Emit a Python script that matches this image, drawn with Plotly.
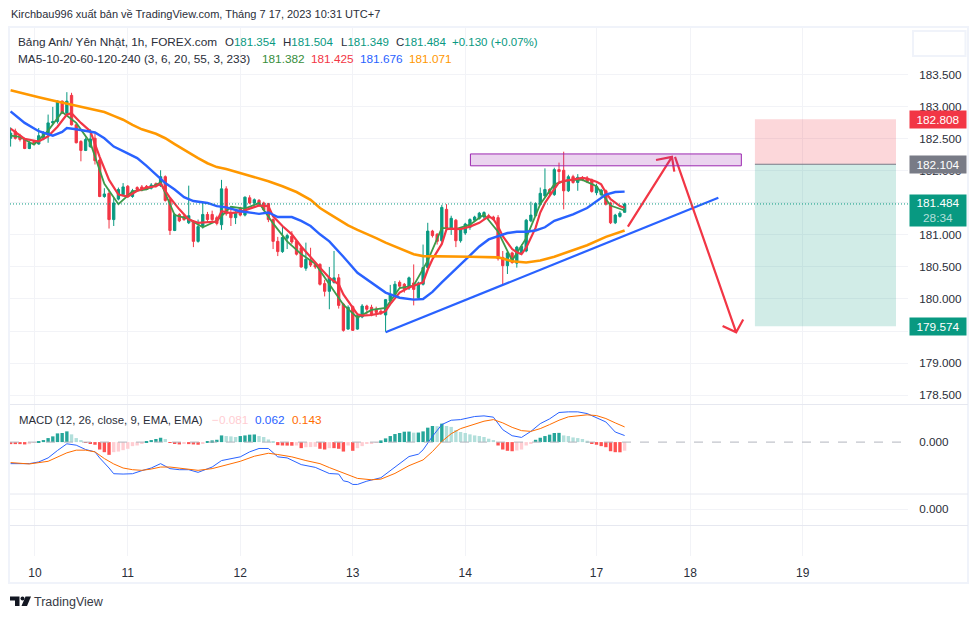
#!/usr/bin/env python3
"""GBP/JPY 1h chart with MA lines, MACD and a short position drawing"""

import plotly.graph_objects as go
from plotly.subplots import make_subplots

# Candles, hourly bars
opens = [182.51, 182.62, 182.55, 182.50, 182.35, 182.46, 182.42, 182.50, 182.56, 182.75, 182.77, 183.09, 182.90, 183.18, 182.72, 182.46, 182.32, 182.38, 182.51, 182.17,
         181.60, 181.65, 181.24, 181.56, 181.63, 181.76, 181.60, 181.74, 181.75, 181.76, 181.73, 181.80, 181.77, 181.91, 181.55, 181.07, 181.32, 181.29, 181.19, 181.21,
         180.90, 181.13, 181.32, 181.32, 181.27, 181.16, 181.72, 181.34, 181.27, 181.42, 181.31, 181.58, 181.50, 181.54, 181.50, 181.49, 181.24, 180.90, 180.74, 180.95,
         180.98, 180.90, 180.80, 180.48, 180.61, 180.54, 180.54, 180.24, 180.12, 180.26, 180.33, 179.92, 179.53, 179.88, 179.53, 179.72, 179.89, 179.87, 179.84, 179.81,
         179.75, 179.97, 180.07, 180.26, 180.23, 180.17, 180.25, 180.02, 180.23, 180.49, 181.06, 181.01, 180.91, 181.40, 181.10, 181.23, 180.91, 181.03, 181.12, 181.23,
         181.26, 181.28, 181.30, 181.28, 181.27, 180.65, 180.52, 180.72, 180.56, 180.71, 180.75, 181.22, 181.30, 181.48, 181.61, 181.71, 181.63, 182.02, 182.01, 181.69,
         181.91, 181.82, 181.89, 181.89, 181.86, 181.66, 181.63, 181.69, 181.50, 181.19, 181.29, 181.354]
highs = [182.68, 182.66, 182.58, 182.52, 182.46, 182.48, 182.67, 182.62, 182.88, 183.00, 183.10, 183.10, 183.23, 183.22, 182.74, 182.48, 182.52, 182.65, 182.59, 182.20,
         181.73, 181.71, 181.58, 181.74, 181.81, 181.78, 181.72, 181.76, 181.78, 181.78, 181.81, 181.82, 182.01, 181.93, 181.56, 181.34, 181.34, 181.31, 181.77, 181.23,
         181.24, 181.50, 181.36, 181.38, 181.30, 181.86, 181.76, 181.45, 181.37, 181.44, 181.60, 181.62, 181.57, 181.56, 181.52, 181.50, 181.26, 180.97, 181.13, 181.02,
         181.06, 180.93, 180.83, 180.88, 180.80, 180.56, 180.56, 180.30, 180.50, 180.75, 180.39, 179.94, 179.90, 179.90, 179.76, 179.92, 179.91, 179.91, 179.88, 179.84,
         180.00, 180.22, 180.28, 180.29, 180.25, 180.35, 180.54, 180.27, 180.85, 181.19, 181.08, 181.03, 181.47, 181.48, 181.30, 181.25, 181.10, 181.19, 181.26, 181.30,
         181.36, 181.37, 181.33, 181.30, 181.31, 180.75, 180.74, 180.74, 180.83, 180.85, 181.25, 181.52, 181.51, 181.74, 182.04, 181.73, 182.05, 182.13, 182.30, 181.94,
         181.94, 181.95, 181.92, 181.92, 181.88, 181.80, 181.72, 181.71, 181.52, 181.33, 181.37, 181.504]
lows = [182.38, 182.49, 182.46, 182.34, 182.34, 182.41, 182.41, 182.48, 182.44, 182.73, 182.74, 182.89, 182.88, 182.71, 182.43, 182.15, 182.31, 182.36, 182.10, 181.59,
        181.58, 181.10, 181.14, 181.54, 181.60, 181.58, 181.58, 181.68, 181.68, 181.70, 181.71, 181.74, 181.75, 181.52, 181.00, 181.06, 181.20, 181.22, 181.17, 180.81,
        180.88, 181.10, 181.20, 181.21, 181.15, 181.08, 181.30, 181.14, 181.17, 181.29, 181.29, 181.48, 181.46, 181.44, 181.37, 181.20, 180.78, 180.67, 180.72, 180.78,
        180.86, 180.68, 180.49, 180.44, 180.50, 180.47, 180.21, 180.04, 179.84, 180.24, 179.85, 179.49, 179.52, 179.50, 179.52, 179.70, 179.76, 179.73, 179.72, 179.75,
        179.49, 179.93, 180.05, 180.17, 180.10, 180.14, 179.90, 180.00, 180.21, 180.47, 180.96, 180.85, 180.89, 181.08, 181.00, 180.81, 180.88, 181.00, 181.08, 181.20,
        181.24, 181.25, 181.25, 181.22, 180.60, 180.22, 180.39, 180.55, 180.49, 180.69, 180.73, 181.20, 181.28, 181.46, 181.59, 181.60, 181.61, 181.80, 181.40, 181.67,
        181.80, 181.69, 181.84, 181.81, 181.66, 181.62, 181.60, 181.46, 181.17, 181.17, 181.27, 181.349]
closes = [182.59, 182.51, 182.49, 182.35, 182.44, 182.43, 182.55, 182.60, 182.75, 182.77, 183.09, 182.90, 183.09, 182.72, 182.44, 182.32, 182.49, 182.50, 182.16, 181.60,
          181.64, 181.24, 181.50, 181.71, 181.75, 181.60, 181.69, 181.71, 181.70, 181.71, 181.78, 181.76, 181.91, 181.54, 181.07, 181.32, 181.22, 181.24, 181.30, 180.90,
          181.13, 181.32, 181.24, 181.24, 181.18, 181.72, 181.33, 181.27, 181.34, 181.31, 181.59, 181.50, 181.55, 181.46, 181.39, 181.24, 180.90, 180.74, 180.96, 180.99,
          180.89, 180.70, 180.50, 180.62, 180.53, 180.50, 180.23, 180.12, 180.33, 180.33, 179.90, 179.51, 179.87, 179.51, 179.74, 179.89, 179.84, 179.75, 179.79, 179.79,
          179.99, 180.07, 180.23, 180.20, 180.15, 180.33, 180.15, 180.25, 180.49, 181.06, 180.99, 180.90, 181.43, 181.11, 181.26, 180.91, 181.08, 181.17, 181.24, 181.28,
          181.34, 181.35, 181.27, 181.24, 180.63, 180.52, 180.72, 180.57, 180.81, 180.82, 181.23, 181.31, 181.49, 181.65, 181.71, 181.65, 182.02, 181.99, 181.69, 181.91,
          181.82, 181.90, 181.86, 181.83, 181.68, 181.76, 181.70, 181.48, 181.19, 181.31, 181.34, 181.484]

# Moving averages, read at the bars listed next to each one
ma_fast_x = [0, 2, 5, 8, 11, 14, 17, 20, 23, 26, 29, 32, 35, 38, 41, 44, 47, 50, 53, 56, 59, 62, 65, 68, 71, 74, 77, 80, 83, 86, 89, 92, 95, 98, 101, 104, 107, 110, 113, 116, 119, 122, 125, 128, 131]
ma_fast = [182.55, 182.53, 182.41, 182.63, 182.92, 182.75, 182.44, 181.80, 181.48, 181.68, 181.71, 181.82, 181.31, 181.25, 181.12, 181.22, 181.44, 181.41, 181.50, 181.18, 180.90, 180.70, 180.55, 180.23, 179.91, 179.71, 179.83, 179.86, 180.17, 180.21, 180.60, 181.11, 181.09, 181.16, 181.32, 181.05, 180.60, 180.95, 181.48, 181.79, 181.86, 181.86, 181.76, 181.46, 181.382]
ma_mid_x = [0, 3, 6, 8, 10, 12, 13, 15, 17, 19, 21, 23, 25, 27, 29, 31, 32, 34, 36, 38, 40, 43, 44, 45, 47, 49, 51, 53, 55, 56, 58, 60, 62, 64, 66, 68, 70, 71, 72, 73, 74, 75, 77, 79, 80, 81, 83, 85, 87, 88, 89, 90, 92, 93, 94, 96, 98, 100, 102, 103, 104, 105, 106, 107, 108, 109, 110, 111, 112, 113, 114, 115, 116, 117, 118, 120, 122, 123, 125, 126, 127, 128, 130, 131]
ma_mid = [182.66, 182.50, 182.46, 182.54, 182.69, 182.88, 182.90, 182.75, 182.62, 182.22, 181.86, 181.63, 181.60, 181.69, 181.74, 181.76, 181.80, 181.58, 181.40, 181.24, 181.19, 181.21, 181.21, 181.37, 181.34, 181.36, 181.41, 181.46, 181.45, 181.29, 181.14, 181.01, 180.82, 180.65, 180.49, 180.33, 180.23, 180.07, 179.97, 179.87, 179.76, 179.74, 179.75, 179.78, 179.81, 179.92, 180.10, 180.18, 180.23, 180.26, 180.46, 180.62, 180.86, 181.09, 181.10, 181.09, 181.13, 181.19, 181.29, 181.25, 181.13, 180.98, 180.88, 180.78, 180.73, 180.70, 180.80, 180.96, 181.11, 181.35, 181.50, 181.61, 181.71, 181.82, 181.84, 181.87, 181.89, 181.88, 181.83, 181.79, 181.66, 181.56, 181.45, 181.425]
ma_blue_x = [0, 3, 6, 9, 11, 12, 14, 16, 18, 20, 22, 24, 27, 29, 31, 33, 35, 37, 39, 42, 44, 46, 49, 53, 55, 57, 60, 62, 64, 66, 68, 70, 71, 74, 77, 80, 83, 86, 88, 90, 92, 94, 96, 98, 100, 102, 104, 106, 108, 110, 112, 114, 116, 118, 120, 123, 125, 127, 129, 131]
ma_blue = [182.93, 182.75, 182.62, 182.55, 182.61, 182.67, 182.65, 182.62, 182.60, 182.51, 182.38, 182.31, 182.20, 182.08, 181.94, 181.81, 181.71, 181.59, 181.53, 181.50, 181.45, 181.43, 181.37, 181.33, 181.35, 181.28, 181.28, 181.22, 181.14, 181.01, 180.90, 180.75, 180.66, 180.41, 180.26, 180.10, 180.02, 179.99, 180.00, 180.11, 180.26, 180.40, 180.54, 180.67, 180.82, 180.93, 180.98, 181.03, 181.05, 181.05, 181.07, 181.12, 181.22, 181.27, 181.32, 181.42, 181.53, 181.63, 181.67, 181.676]
ma_orange_x = [0, 3, 6, 9, 12, 16, 18, 20, 22, 24, 26, 28, 31, 33, 35, 37, 40, 42, 44, 46, 49, 52, 55, 58, 61, 64, 66, 68, 70, 72, 74, 76, 78, 80, 82, 84, 86, 88, 90, 94, 98, 104, 107, 110, 113, 116, 119, 123, 127, 131]
ma_orange = [183.26, 183.20, 183.15, 183.10, 183.05, 182.99, 182.95, 182.92, 182.86, 182.80, 182.72, 182.65, 182.58, 182.51, 182.42, 182.33, 182.20, 182.12, 182.06, 182.03, 181.97, 181.91, 181.84, 181.76, 181.67, 181.55, 181.42, 181.33, 181.24, 181.15, 181.08, 181.02, 180.95, 180.88, 180.82, 180.75, 180.70, 180.67, 180.67, 180.67, 180.66, 180.65, 180.59, 180.57, 180.60, 180.66, 180.74, 180.84, 180.97, 181.071]

# MACD pane
macd_hist = [-0.019, -0.019, -0.019, -0.022, -0.019, -0.006, 0.010, 0.019, 0.038, 0.054, 0.082, 0.086, 0.101, 0.073, 0.038, 0.019, -0.006, -0.013, -0.025, -0.070,
             -0.095, -0.120, -0.095, -0.089, -0.076, -0.063, -0.038, -0.032, -0.013, 0.010, 0.019, 0.029, 0.041, 0.029, -0.006, -0.016, -0.022, -0.013, -0.019, -0.022,
             -0.025, -0.016, 0.010, 0.016, 0.022, 0.063, 0.057, 0.054, 0.048, 0.057, 0.063, 0.070, 0.072, 0.057, 0.048, 0.025, 0.006, -0.029, -0.032, -0.033,
             -0.034, -0.032, -0.057, -0.048, -0.047, -0.044, -0.063, -0.070, -0.057, -0.057, -0.063, -0.089, -0.032, -0.082, -0.057, -0.038, -0.016, -0.010, -0.003, 0.016,
             0.035, 0.057, 0.076, 0.086, 0.098, 0.099, 0.089, 0.090, 0.101, 0.136, 0.152, 0.150, 0.174, 0.152, 0.143, 0.114, 0.095, 0.086, 0.073, 0.063,
             0.057, 0.048, 0.032, 0.019, -0.032, -0.070, -0.082, -0.086, -0.079, -0.070, -0.032, -0.013, 0.022, 0.041, 0.057, 0.070, 0.086, 0.087, 0.063, 0.057,
             0.044, 0.038, 0.029, 0.013, -0.013, -0.025, -0.038, -0.048, -0.086, -0.095, -0.096, -0.081]
macd_x = [0, 2, 4, 6, 8, 10, 12, 14, 16, 18, 19, 21, 22, 24, 26, 28, 30, 32, 34, 36, 38, 40, 41, 43, 45, 47, 49, 51, 53, 55, 57, 59, 62, 65, 68, 70, 71, 72, 73, 74, 76, 79, 81, 83, 85, 87, 88, 90, 92, 94, 96, 99, 101, 103, 105, 107, 109, 111, 113, 115, 117, 119, 121, 123, 125, 127, 129, 131]
macd_line = [-0.203, -0.206, -0.203, -0.187, -0.149, -0.079, -0.016, -0.029, -0.070, -0.092, -0.149, -0.244, -0.298, -0.301, -0.298, -0.269, -0.244, -0.203, -0.250, -0.260, -0.260, -0.285, -0.269, -0.235, -0.174, -0.159, -0.139, -0.092, -0.060, -0.060, -0.139, -0.149, -0.212, -0.238, -0.296, -0.301, -0.365, -0.374, -0.399, -0.399, -0.368, -0.336, -0.269, -0.200, -0.136, -0.114, -0.073, 0.054, 0.165, 0.206, 0.212, 0.241, 0.247, 0.235, 0.117, 0.060, 0.044, 0.101, 0.174, 0.219, 0.279, 0.285, 0.285, 0.269, 0.228, 0.190, 0.095, 0.062]
signal_x = [0, 4, 8, 10, 12, 14, 16, 18, 20, 22, 24, 26, 28, 30, 32, 34, 36, 38, 40, 43, 46, 49, 52, 55, 57, 60, 63, 66, 68, 71, 74, 77, 79, 82, 85, 88, 90, 92, 94, 96, 99, 101, 103, 105, 107, 109, 111, 113, 115, 117, 119, 121, 123, 125, 127, 129, 131]
signal_line = [-0.193, -0.206, -0.181, -0.143, -0.101, -0.076, -0.076, -0.092, -0.155, -0.206, -0.244, -0.260, -0.266, -0.254, -0.235, -0.235, -0.244, -0.254, -0.266, -0.250, -0.212, -0.181, -0.133, -0.105, -0.117, -0.139, -0.174, -0.203, -0.240, -0.288, -0.342, -0.355, -0.349, -0.295, -0.222, -0.168, -0.089, 0.006, 0.079, 0.127, 0.171, 0.197, 0.212, 0.181, 0.139, 0.108, 0.101, 0.127, 0.165, 0.206, 0.238, 0.250, 0.257, 0.250, 0.222, 0.181, 0.143]

# Drawings: tail, tip, one barb, tip, other barb
trend_x = [80, 151]
trend_y = [179.48, 181.58]
arrow_up_x = [131.7, 141.1, 137.7, 141.1, 141.6]
arrow_up_y = [181.13, 182.22, 182.17, 182.22, 181.99]
arrow_down_x = [141.75, 154.8, 151.9, 154.8, 156.3]
arrow_down_y = [182.22, 179.48, 179.58, 179.48, 179.68]
zone_x = [98.1, 155.9]
zone_y = [182.08, 182.265]
position_x = [158.8, 188.9]
stop_price = 182.808
entry_price = 182.104
target_price = 179.574
last_close = 181.484

# Axes
day_ticks = [5.2, 25, 49, 73, 97, 125, 145, 169]
day_labels = ["10", "11", "12", "13", "14", "17", "18", "19"]
price_ticks = [178.5, 179.0, 179.5, 180.0, 180.5, 181.0, 181.5, 182.0, 182.5, 183.0, 183.5]
price_labels = ["178.500", "179.000", "179.500", "180.000", "180.500", "181.000", "", "182.000", "182.500", "183.000", "183.500"]

GREEN = "#089981"
RED = "#F23645"
BLUE = "#2962FF"
ORANGE = "#FF9800"
GRID = "#F2F3F7"
BORDER = "#E6E8F0"
TEXT = "#2A2E39"
FONT = "Liberation Sans"

# pixel helpers for the page furniture (frame, legends, logo)
LEFT, RIGHT, TOP, BOTTOM = 10, 908, 28, 556
def px(x):
    return (x - LEFT) / (RIGHT - LEFT)
def py(y):
    return (BOTTOM - y) / (BOTTOM - TOP)

fig = make_subplots(rows=3, cols=1, shared_xaxes=True, vertical_spacing=0,
                    row_heights=[376, 90, 62])

bars = list(range(len(closes)))

fig.add_trace(go.Candlestick(
    x=bars, open=opens, high=highs, low=lows, close=closes,
    increasing=dict(line=dict(color=GREEN, width=1), fillcolor=GREEN),
    decreasing=dict(line=dict(color=RED, width=1), fillcolor=RED),
    hoverinfo="skip", showlegend=False), row=1, col=1)

for xs, ys, color, width in [(ma_fast_x, ma_fast, "#3C9A4A", 1.8), (ma_mid_x, ma_mid, RED, 2.2),
                             (ma_blue_x, ma_blue, BLUE, 2.4), (ma_orange_x, ma_orange, ORANGE, 2.6)]:
    fig.add_trace(go.Scatter(x=xs, y=ys, mode="lines", line=dict(color=color, width=width),
                             hoverinfo="skip", showlegend=False), row=1, col=1)

fig.add_trace(go.Scatter(x=trend_x, y=trend_y, mode="lines", line=dict(color=BLUE, width=2.2),
                         hoverinfo="skip", showlegend=False), row=1, col=1)

for xs, ys in [(arrow_up_x, arrow_up_y), (arrow_down_x, arrow_down_y)]:
    fig.add_trace(go.Scatter(x=xs, y=ys, mode="lines", line=dict(color=RED, width=2.2),
                             hoverinfo="skip", showlegend=False), row=1, col=1)

# Histogram colours follow the usual MACD rule
hist_colors = []
for i, v in enumerate(macd_hist):
    prev = macd_hist[i - 1] if i else v
    if v >= 0:
        hist_colors.append("#26A69A" if v >= prev else "#B2DFDB")
    else:
        hist_colors.append("#FF5252" if v <= prev else "#FFCDD2")

fig.add_trace(go.Bar(x=bars, y=macd_hist, width=0.72, marker=dict(color=hist_colors, line=dict(width=0)),
                     hoverinfo="skip", showlegend=False), row=2, col=1)
fig.add_trace(go.Scatter(x=macd_x, y=macd_line, mode="lines", line=dict(color="#2962FF", width=1),
                         hoverinfo="skip", showlegend=False), row=2, col=1)
fig.add_trace(go.Scatter(x=signal_x, y=signal_line, mode="lines", line=dict(color="#FF6D00", width=1),
                         hoverinfo="skip", showlegend=False), row=2, col=1)
fig.add_trace(go.Scatter(x=[0], y=[0], mode="markers", marker=dict(opacity=0), hoverinfo="skip",
                         showlegend=False), row=3, col=1)

# Short position box and purple zone
fig.add_shape(type="rect", x0=position_x[0], x1=position_x[1], y0=entry_price, y1=stop_price, row=1, col=1,
              fillcolor="rgba(242,54,69,0.2)", line=dict(width=0))
fig.add_shape(type="rect", x0=position_x[0], x1=position_x[1], y0=target_price, y1=entry_price, row=1, col=1,
              fillcolor="rgba(8,153,129,0.19)", line=dict(width=0))
fig.add_shape(type="line", x0=position_x[0], x1=position_x[1], y0=entry_price, y1=entry_price, row=1, col=1,
              line=dict(color="#787B86", width=1))
fig.add_shape(type="rect", x0=zone_x[0], x1=zone_x[1], y0=zone_y[0], y1=zone_y[1], row=1, col=1,
              fillcolor="rgba(156,39,176,0.2)", line=dict(color="#9C27B0", width=1))

fig.add_hline(y=last_close, row=1, col=1, line=dict(color=GREEN, width=1, dash="1px,2px"))
fig.add_hline(y=0, row=2, col=1, line=dict(color="#B2B5BE", width=1, dash="dash"))

# Frame and pane dividers, in page pixels
frame = dict(type="rect", xref="paper", yref="paper", x0=px(9), x1=px(968), y0=py(583), y1=py(27),
             line=dict(color="#F0F3FA", width=2), layer="below")
shapes = [frame, dict(type="rect", xref="paper", yref="paper", x0=px(913), x1=px(965.5), y0=py(56), y1=py(31),
                      line=dict(color="#F0F3FA", width=2))]
for y in [404.5, 494, 525.5]:
    shapes.append(dict(type="line", xref="paper", yref="paper", x0=px(10), x1=px(968), y0=py(y), y1=py(y),
                       line=dict(color=BORDER, width=1)))
# TradingView logo
shapes.append(dict(type="path", xref="paper", yref="paper", fillcolor="#131722", line=dict(width=0),
                   path="M {} {} L {} {} L {} {} L {} {} L {} {} L {} {} Z".format(
                       px(10), py(596.5), px(19.5), py(596.5), px(19.5), py(606), px(15), py(606), px(15), py(600.5), px(10), py(600.5))))
shapes.append(dict(type="path", xref="paper", yref="paper", fillcolor="#131722", line=dict(width=0),
                   path="M {} {} L {} {} L {} {} L {} {} Z".format(
                       px(25.5), py(596.5), px(31), py(596.5), px(27), py(606), px(21.5), py(606))))
shapes.append(dict(type="circle", xref="paper", yref="paper", fillcolor="#131722", line=dict(width=0),
                   x0=px(20.5), x1=px(24.5), y0=py(600.5), y1=py(596.5)))
for s in shapes:
    fig.add_shape(**s)

def label(x, y, text, color=TEXT, size=12):
    fig.add_annotation(xref="paper", yref="paper", x=px(x), y=py(y), text=text, showarrow=False,
                       xanchor="left", yanchor="middle", align="left",
                       font=dict(family=FONT, size=size, color=color), borderpad=0)

label(10, 14.5, "Kirchbau996 xuất bản về TradingView.com, Tháng 7 17, 2023 10:31 UTC+7", size=11)
label(17, 42, "Bảng Anh/ Yên Nhật, 1h, FOREX.com", size=11.8)
for x, head, value in [(224, "O", "181.354"), (282, "H", "181.504"), (340, "L", "181.349"), (395, "C", "181.484")]:
    label(x, 42, f"{head}<span style='color:{GREEN}'>{value}</span>", size=11.5)
label(451, 42, "+0.130 (+0.07%)", GREEN, 11.5)
label(17, 59, "MA5-10-20-60-120-240 (3, 6, 20, 55, 3, 233)", size=11.8)
for x, value, color in [(261, "181.382", "#388E3C"), (310, "181.425", RED), (359, "181.676", BLUE), (408, "181.071", ORANGE)]:
    label(x, 59, value, color, 11.8)
label(18, 420, "MACD (12, 26, close, 9, EMA, EMA)", size=11.4)
for x, value, color in [(211, "−0.081", "#FFCDD2"), (254, "0.062", BLUE), (291, "0.143", "#FF6D00")]:
    label(x, 420, value, color, 11.8)
label(33, 601.5, "TradingView", "#363A45", 12.5)

# Price tags on the right axis
for price, text, color, height, shift in [
        (stop_price, "182.808", RED, 17, 0),
        (entry_price, "182.104", "#787B86", 17, 0),
        (last_close, "181.484<br><span style='color:#B2DFDB'>28:34</span>", GREEN, 31, -7),
        (target_price, "179.574", GREEN, 17, 0)]:
    fig.add_annotation(xref="paper", yref="y", x=px(909), y=price, text=text, showarrow=False,
                       xanchor="left", yanchor="middle", align="center", width=56, height=height,
                       bgcolor=color, borderpad=0, yshift=shift,
                       font=dict(family=FONT, size=11.8, color="white"))

fig.update_xaxes(range=[-0.13, 191.46], tickmode="array", tickvals=day_ticks, ticktext=day_labels,
                 showgrid=True, gridcolor=GRID, gridwidth=1, zeroline=False, showline=False,
                 ticks="outside", ticklen=6, tickcolor="rgba(0,0,0,0)", rangeslider=dict(visible=False),
                 tickfont=dict(family=FONT, size=12, color=TEXT))
fig.update_yaxes(side="right", zeroline=False, showline=False, showgrid=True, gridcolor=GRID, gridwidth=1,
                 ticks="outside", ticklen=8, tickcolor="rgba(0,0,0,0)",
                 tickfont=dict(family=FONT, size=11.7, color=TEXT))
fig.update_yaxes(row=1, col=1, range=[178.36, 184.232], tickmode="array", tickvals=price_ticks,
                 ticktext=price_labels)
fig.update_yaxes(row=2, col=1, range=[-0.489, 0.359], tickmode="array", tickvals=[0], ticktext=["0.000"], showgrid=False)
fig.update_yaxes(row=3, col=1, range=[-47, 15], tickmode="array", tickvals=[0], ticktext=["0.000"])

fig.update_layout(
    width=979, height=619,
    margin=dict(l=LEFT, r=979 - RIGHT, t=TOP, b=619 - BOTTOM),
    plot_bgcolor="white", paper_bgcolor="white",
    bargap=0.28, barmode="overlay", hovermode=False, showlegend=False,
    font=dict(family=FONT, size=12, color=TEXT),
)

fig.write_html("out.html", config=dict(displayModeBar=False),
               post_script="document.body.style.margin='0';")
